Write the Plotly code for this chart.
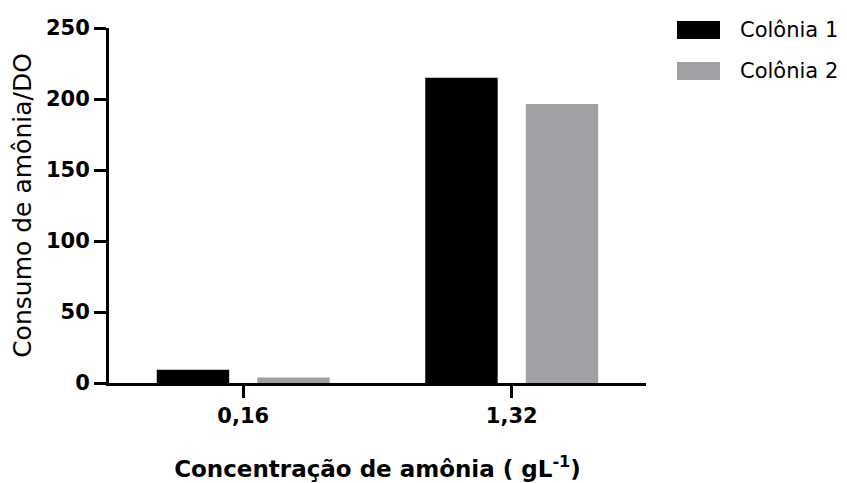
import plotly.graph_objects as go

categories = ["0,16", "1,32"]
series_names = ["Colônia 1", "Colônia 2"]
colonia1 = [9.4, 215]
colonia2 = [3.8, 196.5]
colors = ["#000000", "#A1A0A4"]
y_ticks = [0, 50, 100, 150, 200, 250]

fig = go.Figure()
for name, vals, col in zip(series_names, [colonia1, colonia2], colors):
    fig.add_trace(go.Bar(x=categories, y=vals, name=name, marker=dict(color=col, line=dict(width=0)),
                         showlegend=False))

FONT = "DejaVu Sans, Verdana, sans-serif"
# page body adds an 8px offset, so the figure is 8px smaller and margins shifted
fig.update_layout(
    width=839, height=475,
    margin=dict(l=101, r=201, t=20, b=100, autoexpand=False),
    paper_bgcolor="white", plot_bgcolor="white",
    barmode="group", bargap=0.251, bargroupgap=0.28,
    font=dict(family=FONT, color="black"),
)
fig.update_xaxes(
    type="category", range=[-0.5, 1.5], automargin=False,
    showline=True, linecolor="black", linewidth=3,
    ticks="outside", ticklen=12, tickwidth=3, tickcolor="black",
    tickfont=dict(size=21, family=FONT, weight="bold"),
    title=dict(text="Concentração de amônia ( gL<sup>-1</sup>)",
               font=dict(size=23, family=FONT, weight="bold"), standoff=34),
    showgrid=False, zeroline=False,
)
fig.update_yaxes(
    range=[0, 250], tickvals=y_ticks, automargin=False,
    showline=True, linecolor="black", linewidth=3,
    ticks="outside", ticklen=12, tickwidth=3, tickcolor="black",
    tickfont=dict(size=21, family=FONT, weight="bold"),
    title=dict(text="Consumo de amônia/DO", font=dict(size=25, family=FONT), standoff=10),
    showgrid=False, zeroline=False,
)

# legend drawn manually (large swatches as in reference)
legend_y = [30, 71]
for name, col, yc in zip(series_names, colors, legend_y):
    fig.add_shape(type="rect", xref="paper", yref="paper",
                  x0=(677 - 109) / 537, x1=(720 - 109) / 537,
                  y0=(383 - (yc + 9)) / 355, y1=(383 - (yc - 9)) / 355,
                  fillcolor=col, line=dict(width=0))
    fig.add_annotation(xref="paper", yref="paper", x=(738 - 109) / 537, y=(383 - yc) / 355,
                       text=name, showarrow=False, xanchor="left", yanchor="middle",
                       font=dict(size=21, family=FONT, color="black"))

fig.write_html("out.html")
